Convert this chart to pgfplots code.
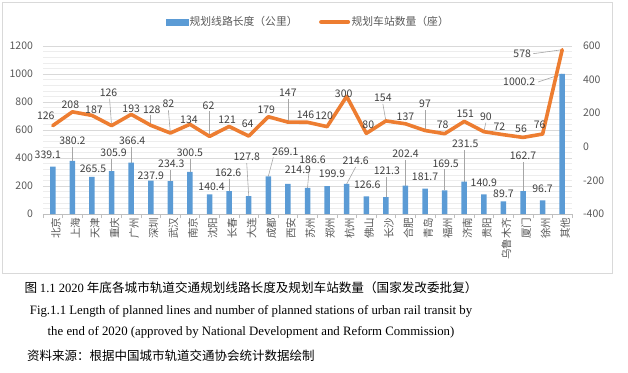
\documentclass[border=0pt]{standalone}
\usepackage{fontspec}
\setmainfont{Noto Sans CJK SC}
\newfontfamily\cjk{Noto Sans CJK SC}
\newfontfamily\tnr{Liberation Serif}
\usepackage{pgfplots}
\usepackage{pgfplotstable}
\pgfplotsset{compat=1.18}
\definecolor{barblue}{HTML}{5B9BD5}
\definecolor{lineorange}{HTML}{ED7D31}
\definecolor{labelgray}{HTML}{404040}
\definecolor{tickgray}{HTML}{595959}
\definecolor{gridmajor}{HTML}{D9D9D9}
\definecolor{gridminor}{HTML}{EDEDED}
\definecolor{axisgray}{HTML}{BFBFBF}
\definecolor{leadgray}{HTML}{A6A6A6}
\definecolor{framegray}{HTML}{D9D9D9}

\pgfplotstableread{
idx len bdx bdy bux buy sta sdx sdy sux suy
0 339.1 -5 11.5 0 0 126 -7 10 0 0
1 380.2 0 20 0 14 208 -2 7 0 0
2 265.5 1 8 0 0 187 2 6 0 0
3 305.9 2 18 0 12 126 -3 33 -2 27
4 366.4 1 22 0 16 193 0 6 0 0
5 237.9 0 5 0 0 128 1 16 0 10
6 234.3 1 17 0 11 82 -2 29 -2 23
7 300.5 0 19 0 13 134 -1 5 0 0
8 140.4 2 8 0 0 62 -1 31 0 25
9 162.6 -1 18 0 12 121 -2 7 0 0
10 127.8 -2 39 -2 33 64 -1 12 0 0
11 269.1 17 25 5 19 179 -2 7 0 0
12 214.9 10 14 0 0 147 0 29 0 23
13 186.6 5 28 2 22 146 -2 8 0 0
14 199.9 5 12 0 0 120 -3 11 0 0
15 214.6 9 23 9 17 300 -3 3 0 0
16 126.6 1 12 0 0 80 2 9 0 0
17 121.3 1 26 0 20 154 -3 23 -3 17
18 202.4 0 32 0 26 137 0 7 0 0
19 181.7 0 12 0 0 97 0 27 0 21
20 169.5 1 27 0 21 78 -2 9 0 0
21 231.5 1 38 0 32 151 1 8 0 0
22 140.9 0 12 0 0 90 2 15 2 9
23 89.7 0 8 0 0 72 -4 8 0 0
24 162.7 0 35 0 29 56 -2 9 0 0
25 96.7 0 12 0 0 76 -3 9 0 0
26 1000.2 -43 -8 -24 -8 578 -40 -4 -29 -4
}\data

\begin{document}
\begin{tikzpicture}
\useasboundingbox (0pt,0pt) rectangle (628pt,-372pt);
\draw[framegray, line width=0.8pt] (2pt,-2pt) rectangle (612pt,-273pt);

\begin{axis}[
  at={(43pt,-214pt)}, anchor=south west,
  scale only axis, width=529pt, height=168pt,
  xmin=-0.5, xmax=26.5, ymin=0, ymax=1200,
  xtick={0,...,26},
  xticklabels={北京,上海,天津,重庆,广州,深圳,武汉,南京,沈阳,长春,大连,成都,西安,苏州,郑州,杭州,佛山,长沙,合肥,青岛,福州,济南,贵阳,乌鲁木齐,厦门,徐州,其他},
  minor xtick={-0.5,0.5,...,26.5},
  ytick={0,200,...,1200}, minor y tick num=4,
  ymajorgrids, yminorgrids,
  major grid style={draw=gridmajor, line width=0.6pt},
  minor grid style={draw=gridminor, line width=0.6pt},
  axis x line*=bottom, axis y line*=left,
  x axis line style={draw=axisgray, line width=0.6pt, -},
  y axis line style={draw=none},
  major tick length=0pt, minor tick length=4pt, tick align=outside,
  minor x tick style={draw=axisgray, line width=0.6pt},
  minor y tick style={draw=none}, major tick style={draw=none},
  /pgf/number format/assume math mode=true,
  /pgf/number format/1000 sep={},
  scaled y ticks=false,
  ticklabel style={font=\fontsize{10.5}{12}\selectfont, text=tickgray},
  yticklabel style={anchor=east, xshift=-6.5pt},
  xticklabel style={rotate=90, anchor=east, yshift=-3pt, font=\cjk\fontsize{10.5}{12}\selectfont},
  clip=false,
]
\addplot[forget plot, draw=leadgray, line width=0.6pt,
  quiver={u=\thisrow{bux}/19.593, v=\thisrow{buy}/0.14}]
  table[x=idx, y=len] {\data};
\addplot[ybar, bar width=5.5pt, fill=barblue, draw=none,
  nodes near coords, point meta=explicit symbolic,
  visualization depends on={\thisrow{bdx} \as \bdx},
  visualization depends on={\thisrow{bdy} \as \bdy},
  every node near coord/.append style={anchor=center, xshift=\bdx pt, yshift=\bdy pt,
    font=\fontsize{10.5}{12}\selectfont, text=labelgray, inner sep=0pt}]
  table[x=idx, y=len, meta=len] {\data};
\end{axis}

\begin{axis}[
  at={(43pt,-214pt)}, anchor=south west,
  scale only axis, width=529pt, height=168pt,
  xmin=-0.5, xmax=26.5, ymin=-400, ymax=600,
  hide x axis,
  axis y line*=right,
  y axis line style={draw=none},
  ytick={-400,-200,...,600},
  major tick length=0pt, major tick style={draw=none},
  /pgf/number format/assume math mode=true,
  /pgf/number format/1000 sep={},
  scaled y ticks=false,
  yticklabel style={anchor=west, xshift=7.5pt, font=\fontsize{10.5}{12}\selectfont, text=tickgray},
  clip=false,
  legend style={draw=none, fill=none, legend columns=2,
    at={(axis description cs:0.501,1.143)}, anchor=center,
    font=\cjk\fontsize{10.8}{12}\selectfont, text=tickgray,
    /tikz/every even column/.append style={column sep=20pt},
    nodes={inner sep=1.5pt}},
]
\addlegendimage{legend image code/.code={\fill[barblue] (0pt,-3pt) rectangle (22pt,3pt);}}
\addlegendentry{规划线路长度（公里）}
\addplot[forget plot, draw=leadgray, line width=0.6pt,
  quiver={u=\thisrow{sux}/19.593, v=\thisrow{suy}/0.168}]
  table[x=idx, y=sta] {\data};
\addplot[lineorange, line width=3.6pt, line join=round, line cap=round, mark=none,
  legend image code/.code={\draw[lineorange, line width=4pt] (0pt,0pt) -- (27pt,0pt);},
  nodes near coords, point meta=explicit symbolic,
  visualization depends on={\thisrow{sdx} \as \sdx},
  visualization depends on={\thisrow{sdy} \as \sdy},
  every node near coord/.append style={anchor=center, xshift=\sdx pt, yshift=\sdy pt,
    font=\fontsize{10.5}{12}\selectfont, text=labelgray, inner sep=0pt}]
  table[x=idx, y=sta, meta=sta] {\data};
\addlegendentry{规划车站数量（座）}
\end{axis}

\node[font=\fontsize{12.6}{14}\selectfont] at (251pt,-288pt)
  {\cjk 图 {\tnr 1.1 2020} 年底各城市轨道交通规划线路长度及规划车站数量（国家发改委批复）};
\node[font=\tnr\fontsize{12.8}{14}\selectfont] at (251pt,-311pt)
  {Fig.1.1 Length of planned lines and number of planned stations of urban rail transit by};
\node[font=\tnr\fontsize{12.8}{14}\selectfont] at (251pt,-332pt)
  {the end of 2020 (approved by National Development and Reform Commission)};
\node[font=\cjk\fontsize{12.5}{14}\selectfont, anchor=west, inner sep=0pt] at (27pt,-356pt)
  {资料来源：根据中国城市轨道交通协会统计数据绘制};
\end{tikzpicture}
\end{document}
